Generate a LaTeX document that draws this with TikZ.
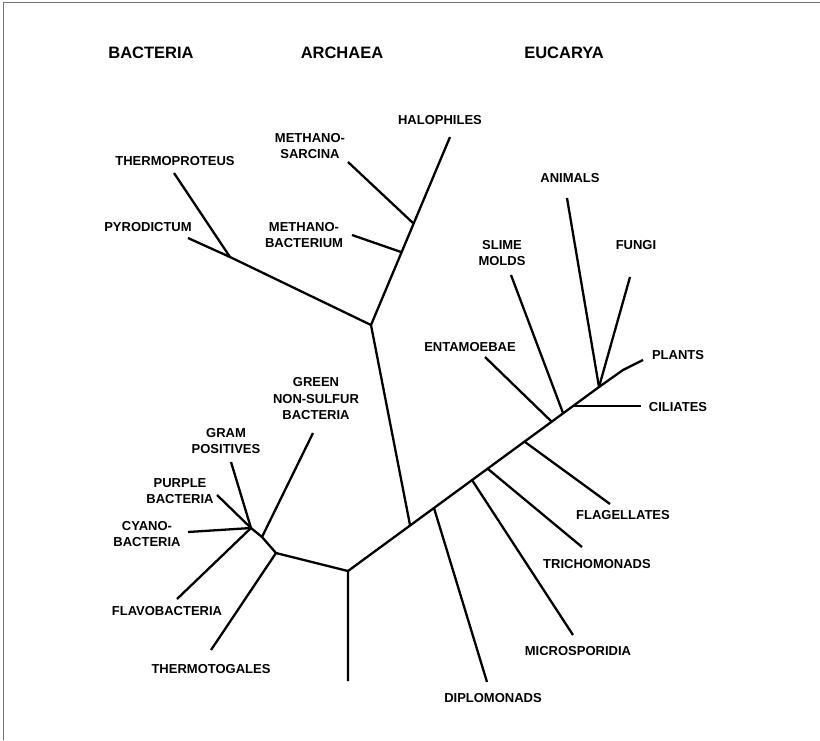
\documentclass[tikz,border=0pt]{standalone}
\usepackage{fontspec}
\setmainfont{Liberation Sans}
\usetikzlibrary{positioning}
\tikzset{
  branch/.style={line width=2.3pt},
  taxon/.style={font=\bfseries\fontsize{13}{16.5}\selectfont,align=center,inner sep=0pt},
  realm/.style={font=\bfseries\fontsize{16.5}{19}\selectfont,inner sep=0pt}
}

\begin{document}
\begin{tikzpicture}[x=1pt,y=-1pt]
  \useasboundingbox (0,0) rectangle (820,740);
  \draw[black!55,line width=1pt] (3.5,740)--(3.5,2.5)--(820,2.5);
  % domains
  \node[realm] (bac) at (151,53){BACTERIA};
  \node[realm] (arc) at (342,53){ARCHAEA};
  \node[realm] (euc) at (564,53){EUCARYA};
  % backbone
  \coordinate(R) at (348,571);\coordinate(C) at (599,387);
  \coordinate(K) at (623,370);\coordinate(Pl) at (643,360);
  \coordinate(Rb) at (348,681);
  \draw[branch] (Rb)--(R)--(C)--(K)--(Pl);
  % archaea
  \coordinate(J) at (410,525);\coordinate(A) at (371,325);
  \coordinate(Ms) at (413,223);\coordinate(Mb) at (401,252);
  \coordinate(Ha) at (450,137);\coordinate(Cr) at (230,257);
  \draw[branch] (J)--(A)--(Ha);
  \draw[branch] (A)--(Cr);
  \draw[branch] (Ms)--(348,162);
  \draw[branch] (Mb)--(352,235);
  \draw[branch] (Cr)--(174,173);
  \draw[branch] (Cr)--(188,238);
  \node[taxon] (halo) at (440,120){HALOPHILES};
  \node[taxon] (msar) at (310,146){METHANO-\\SARCINA};
  \node[taxon] (mbac) at (304,235){METHANO-\\BACTERIUM};
  \node[taxon] (thpr) at (175,161){THERMOPROTEUS};
  \node[taxon] (pyro) at (148,227){PYRODICTUM};
  % eucarya
  \draw[branch] (434,508)--(487,682);
  \draw[branch] (472,480)--(573,635);
  \draw[branch] (488,469)--(582,547);
  \draw[branch] (525,442)--(610,504);
  \draw[branch] (552,422)--(485,357);
  \draw[branch] (563,413)--(511,275);
  \draw[branch] (573,406)--(641,406);
  \draw[branch] (C)--(567,198);
  \draw[branch] (C)--(630,277);
  \node[taxon] (anim) at (570,178){ANIMALS};
  \node[taxon] (slim) at (502,253){SLIME\\MOLDS};
  \node[taxon] (fung) at (636,245){FUNGI};
  \node[taxon] (enta) at (470,347){ENTAMOEBAE};
  \node[taxon] (plan) at (678,355){PLANTS};
  \node[taxon] (cili) at (678,407){CILIATES};
  \node[taxon] (flag) at (623,515){FLAGELLATES};
  \node[taxon] (tric) at (597,564){TRICHOMONADS};
  \node[taxon] (micr) at (578,651){MICROSPORIDIA};
  \node[taxon] (dipl) at (493,698){DIPLOMONADS};
  % bacteria
  \coordinate(T) at (276,553);\coordinate(G) at (262,537);\coordinate(B) at (251,528);
  \draw[branch] (R)--(T)--(G)--(B);
  \draw[branch] (T)--(211,650);
  \draw[branch] (G)--(313,433);
  \draw[branch] (B)--(231,462);
  \draw[branch] (B)--(217,495);
  \draw[branch] (B)--(188,532);
  \draw[branch] (B)--(177,599);
  \node[taxon] (gree) at (316,399){GREEN\\NON-SULFUR\\BACTERIA};
  \node[taxon] (gram) at (226,441){GRAM\\POSITIVES};
  \node[taxon] (purp) at (180,491){PURPLE\\BACTERIA};
  \node[taxon] (cyan) at (147,534){CYANO-\\BACTERIA};
  \node[taxon] (flav) at (167,611){FLAVOBACTERIA};
  \node[taxon] (ttog) at (211,669){THERMOTOGALES};
\end{tikzpicture}
\end{document}
